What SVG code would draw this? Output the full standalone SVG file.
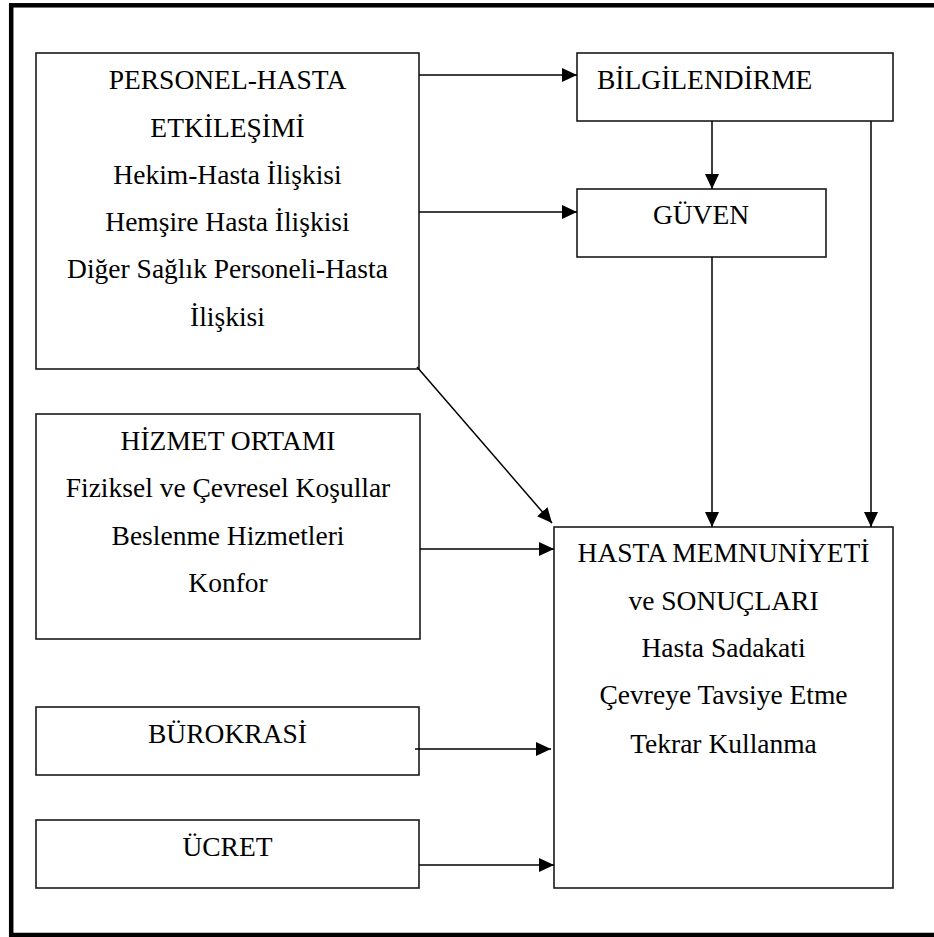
<svg xmlns="http://www.w3.org/2000/svg" width="934" height="937" viewBox="0 0 934 937">
<style>
.box{fill:#fff;stroke:#1a1a1a;stroke-width:1.6}
.t{font-size:27.5px;fill:#000}
.c{text-anchor:middle}
.ln{stroke:#000;stroke-width:1.5;fill:none}
</style>
<defs>
<marker id="ah" markerUnits="userSpaceOnUse" markerWidth="15" markerHeight="15" refX="15" refY="7" orient="auto">
<path d="M0,0 L15,7 L0,14 z" fill="#000"/>
</marker>
</defs>
<rect x="0" y="0" width="934" height="937" fill="#fff"/>
<rect x="11.2" y="5.3" width="1000" height="929.7" fill="none" stroke="#000" stroke-width="4.5"/>

<g font-family="Liberation Serif, Tinos, Times New Roman, DejaVu Serif, serif">
<g id="personel">
<rect class="box" x="36" y="53" width="383" height="316"/>
<text class="t c" x="227.5" y="89">PERSONEL-HASTA</text>
<text class="t c" x="227.5" y="137">ETKİLEŞİMİ</text>
<text class="t c" x="227.5" y="184">Hekim-Hasta İlişkisi</text>
<text class="t c" x="227.5" y="231">Hemşire Hasta İlişkisi</text>
<text class="t c" x="227.5" y="278">Diğer Sağlık Personeli-Hasta</text>
<text class="t c" x="227.5" y="326">İlişkisi</text>
</g>

<g id="bilgilendirme">
<rect class="box" x="577" y="53" width="316" height="68"/>
<text class="t" x="597" y="89">BİLGİLENDİRME</text>
</g>

<g id="guven">
<rect class="box" x="577" y="189" width="249" height="68"/>
<text class="t c" x="701" y="224">GÜVEN</text>
</g>

<g id="hizmet">
<rect class="box" x="36" y="414" width="384" height="225"/>
<text class="t c" x="228" y="450">HİZMET ORTAMI</text>
<text class="t c" x="228" y="497">Fiziksel ve Çevresel Koşullar</text>
<text class="t c" x="228" y="545">Beslenme Hizmetleri</text>
<text class="t c" x="228" y="592">Konfor</text>
</g>

<g id="burokrasi">
<rect class="box" x="36" y="707" width="383" height="68"/>
<text class="t c" x="227.5" y="743">BÜROKRASİ</text>
</g>

<g id="ucret">
<rect class="box" x="36" y="820" width="383" height="68"/>
<text class="t c" x="227.5" y="856">ÜCRET</text>
</g>

<g id="hasta">
<rect class="box" x="554" y="527" width="339" height="361"/>
<text class="t c" x="723.5" y="562">HASTA MEMNUNİYETİ</text>
<text class="t c" x="723.5" y="610">ve SONUÇLARI</text>
<text class="t c" x="723.5" y="657">Hasta Sadakati</text>
<text class="t c" x="723.5" y="704">Çevreye Tavsiye Etme</text>
<text class="t c" x="723.5" y="753">Tekrar Kullanma</text>
</g>
</g>

<g id="connectors">
<line class="ln" x1="419" y1="75" x2="577" y2="75" marker-end="url(#ah)"/>
<line class="ln" x1="419" y1="212" x2="577" y2="212" marker-end="url(#ah)"/>
<line class="ln" x1="712" y1="121" x2="712" y2="189" marker-end="url(#ah)"/>
<line class="ln" x1="712" y1="257" x2="712" y2="527" marker-end="url(#ah)"/>
<line class="ln" x1="871" y1="121" x2="871" y2="527" marker-end="url(#ah)"/>
<line class="ln" x1="417" y1="367" x2="552" y2="523" marker-end="url(#ah)"/>
<line class="ln" x1="420" y1="549" x2="554" y2="549" marker-end="url(#ah)"/>
<line class="ln" x1="415" y1="749" x2="551" y2="749" marker-end="url(#ah)"/>
<line class="ln" x1="419" y1="865" x2="554" y2="865" marker-end="url(#ah)"/>
</g>
</svg>
